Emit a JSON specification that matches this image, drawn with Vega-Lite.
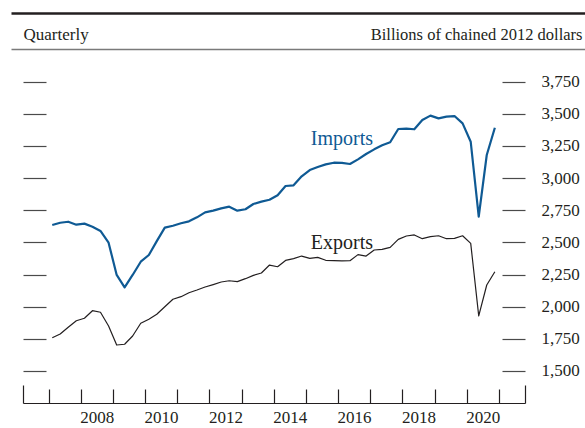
{
  "$schema": "https://vega.github.io/schema/vega-lite/v6.json",
  "width": 502,
  "height": 343,
  "autosize": "none",
  "padding": {"left": 23, "top": 60, "right": 60, "bottom": 25},
  "config": {
    "font": "Liberation Serif",
    "view": {"stroke": null},
    "axis": {"grid": false, "labelFont": "Liberation Serif", "titleFont": "Liberation Serif"}
  },
  "datasets": {
    "trade": [
      {"date": "2007-01-01", "series": "Imports", "value": 2635},
      {"date": "2007-04-01", "series": "Imports", "value": 2653},
      {"date": "2007-07-01", "series": "Imports", "value": 2661},
      {"date": "2007-10-01", "series": "Imports", "value": 2638},
      {"date": "2008-01-01", "series": "Imports", "value": 2646},
      {"date": "2008-04-01", "series": "Imports", "value": 2622},
      {"date": "2008-07-01", "series": "Imports", "value": 2589},
      {"date": "2008-10-01", "series": "Imports", "value": 2498},
      {"date": "2009-01-01", "series": "Imports", "value": 2247},
      {"date": "2009-04-01", "series": "Imports", "value": 2151},
      {"date": "2009-07-01", "series": "Imports", "value": 2247},
      {"date": "2009-10-01", "series": "Imports", "value": 2350},
      {"date": "2010-01-01", "series": "Imports", "value": 2402},
      {"date": "2010-04-01", "series": "Imports", "value": 2510},
      {"date": "2010-07-01", "series": "Imports", "value": 2615},
      {"date": "2010-10-01", "series": "Imports", "value": 2630},
      {"date": "2011-01-01", "series": "Imports", "value": 2649},
      {"date": "2011-04-01", "series": "Imports", "value": 2664},
      {"date": "2011-07-01", "series": "Imports", "value": 2695},
      {"date": "2011-10-01", "series": "Imports", "value": 2734},
      {"date": "2012-01-01", "series": "Imports", "value": 2747},
      {"date": "2012-04-01", "series": "Imports", "value": 2765},
      {"date": "2012-07-01", "series": "Imports", "value": 2778},
      {"date": "2012-10-01", "series": "Imports", "value": 2747},
      {"date": "2013-01-01", "series": "Imports", "value": 2758},
      {"date": "2013-04-01", "series": "Imports", "value": 2799},
      {"date": "2013-07-01", "series": "Imports", "value": 2817},
      {"date": "2013-10-01", "series": "Imports", "value": 2832},
      {"date": "2014-01-01", "series": "Imports", "value": 2867},
      {"date": "2014-04-01", "series": "Imports", "value": 2939},
      {"date": "2014-07-01", "series": "Imports", "value": 2944},
      {"date": "2014-10-01", "series": "Imports", "value": 3014},
      {"date": "2015-01-01", "series": "Imports", "value": 3063},
      {"date": "2015-04-01", "series": "Imports", "value": 3087},
      {"date": "2015-07-01", "series": "Imports", "value": 3107},
      {"date": "2015-10-01", "series": "Imports", "value": 3120},
      {"date": "2016-01-01", "series": "Imports", "value": 3118},
      {"date": "2016-04-01", "series": "Imports", "value": 3110},
      {"date": "2016-07-01", "series": "Imports", "value": 3146},
      {"date": "2016-10-01", "series": "Imports", "value": 3188},
      {"date": "2017-01-01", "series": "Imports", "value": 3224},
      {"date": "2017-04-01", "series": "Imports", "value": 3255},
      {"date": "2017-07-01", "series": "Imports", "value": 3279},
      {"date": "2017-10-01", "series": "Imports", "value": 3382},
      {"date": "2018-01-01", "series": "Imports", "value": 3385},
      {"date": "2018-04-01", "series": "Imports", "value": 3380},
      {"date": "2018-07-01", "series": "Imports", "value": 3452},
      {"date": "2018-10-01", "series": "Imports", "value": 3486},
      {"date": "2019-01-01", "series": "Imports", "value": 3465},
      {"date": "2019-04-01", "series": "Imports", "value": 3478},
      {"date": "2019-07-01", "series": "Imports", "value": 3483},
      {"date": "2019-10-01", "series": "Imports", "value": 3426},
      {"date": "2020-01-01", "series": "Imports", "value": 3283},
      {"date": "2020-04-01", "series": "Imports", "value": 2700},
      {"date": "2020-07-01", "series": "Imports", "value": 3180},
      {"date": "2020-10-01", "series": "Imports", "value": 3392},
      {"date": "2007-01-01", "series": "Exports", "value": 1759},
      {"date": "2007-04-01", "series": "Exports", "value": 1788},
      {"date": "2007-07-01", "series": "Exports", "value": 1840},
      {"date": "2007-10-01", "series": "Exports", "value": 1891},
      {"date": "2008-01-01", "series": "Exports", "value": 1910},
      {"date": "2008-04-01", "series": "Exports", "value": 1969},
      {"date": "2008-07-01", "series": "Exports", "value": 1957},
      {"date": "2008-10-01", "series": "Exports", "value": 1850},
      {"date": "2009-01-01", "series": "Exports", "value": 1702},
      {"date": "2009-04-01", "series": "Exports", "value": 1708},
      {"date": "2009-07-01", "series": "Exports", "value": 1772},
      {"date": "2009-10-01", "series": "Exports", "value": 1871},
      {"date": "2010-01-01", "series": "Exports", "value": 1902},
      {"date": "2010-04-01", "series": "Exports", "value": 1941},
      {"date": "2010-07-01", "series": "Exports", "value": 2000},
      {"date": "2010-10-01", "series": "Exports", "value": 2058},
      {"date": "2011-01-01", "series": "Exports", "value": 2078},
      {"date": "2011-04-01", "series": "Exports", "value": 2109},
      {"date": "2011-07-01", "series": "Exports", "value": 2130},
      {"date": "2011-10-01", "series": "Exports", "value": 2153},
      {"date": "2012-01-01", "series": "Exports", "value": 2172},
      {"date": "2012-04-01", "series": "Exports", "value": 2192},
      {"date": "2012-07-01", "series": "Exports", "value": 2202},
      {"date": "2012-10-01", "series": "Exports", "value": 2195},
      {"date": "2013-01-01", "series": "Exports", "value": 2218},
      {"date": "2013-04-01", "series": "Exports", "value": 2244},
      {"date": "2013-07-01", "series": "Exports", "value": 2262},
      {"date": "2013-10-01", "series": "Exports", "value": 2324},
      {"date": "2014-01-01", "series": "Exports", "value": 2311},
      {"date": "2014-04-01", "series": "Exports", "value": 2360},
      {"date": "2014-07-01", "series": "Exports", "value": 2374},
      {"date": "2014-10-01", "series": "Exports", "value": 2394},
      {"date": "2015-01-01", "series": "Exports", "value": 2376},
      {"date": "2015-04-01", "series": "Exports", "value": 2384},
      {"date": "2015-07-01", "series": "Exports", "value": 2361},
      {"date": "2015-10-01", "series": "Exports", "value": 2358},
      {"date": "2016-01-01", "series": "Exports", "value": 2356},
      {"date": "2016-04-01", "series": "Exports", "value": 2358},
      {"date": "2016-07-01", "series": "Exports", "value": 2405},
      {"date": "2016-10-01", "series": "Exports", "value": 2394},
      {"date": "2017-01-01", "series": "Exports", "value": 2441},
      {"date": "2017-04-01", "series": "Exports", "value": 2446},
      {"date": "2017-07-01", "series": "Exports", "value": 2462},
      {"date": "2017-10-01", "series": "Exports", "value": 2524},
      {"date": "2018-01-01", "series": "Exports", "value": 2550},
      {"date": "2018-04-01", "series": "Exports", "value": 2558},
      {"date": "2018-07-01", "series": "Exports", "value": 2529},
      {"date": "2018-10-01", "series": "Exports", "value": 2545},
      {"date": "2019-01-01", "series": "Exports", "value": 2552},
      {"date": "2019-04-01", "series": "Exports", "value": 2529},
      {"date": "2019-07-01", "series": "Exports", "value": 2532},
      {"date": "2019-10-01", "series": "Exports", "value": 2552},
      {"date": "2020-01-01", "series": "Exports", "value": 2493},
      {"date": "2020-04-01", "series": "Exports", "value": 1928},
      {"date": "2020-07-01", "series": "Exports", "value": 2169},
      {"date": "2020-10-01", "series": "Exports", "value": 2272}
    ],
    "labels": [
      {"date": "2016-01-01", "series": "Imports", "value": 3258},
      {"date": "2016-01-01", "series": "Exports", "value": 2447}
    ],
    "axisyears": [{"year": 2006.205}, {"year": 2021.81}],
    "frame": [{"pos": 0}, {"pos": 1}],
    "yframe": [{"level": 1500}, {"level": 3750}]
  },
  "resolve": {
    "scale": {"x": "independent", "y": "independent"},
    "axis": {"x": "independent", "y": "independent"}
  },
  "layer": [
    {
      "data": {"name": "trade"},
      "mark": {"type": "line", "strokeJoin": "round"},
      "encoding": {
        "x": {
          "field": "date", "type": "temporal",
          "scale": {"type": "utc", "domain": [{"year": 2006, "month": 2, "date": 3, "utc": true}, {"year": 2021, "month": 9, "date": 8, "utc": true}]},
          "axis": null
        },
        "y": {
          "field": "value", "type": "quantitative",
          "scale": {"domain": [1251.1, 3918.8], "nice": false, "zero": false},
          "axis": {
            "orient": "right",
            "values": [1500, 1750, 2000, 2250, 2500, 2750, 3000, 3250, 3500, 3750],
            "format": ",.0f",
            "domain": false,
            "tickSize": -23,
            "tickColor": "#4a4a4a",
            "tickWidth": 1.2,
            "labelPadding": 39,
            "labelFontSize": 17,
            "labelColor": "#231f20",
            "labelAlign": "left",
            "labelBaseline": "middle",
            "title": "Billions of chained 2012 dollars",
            "titleAngle": 0,
            "titleAlign": "right",
            "titleBaseline": "alphabetic",
            "titleX": 57,
            "titleY": -21,
            "titleFontSize": 16.5,
            "titleFontWeight": "normal",
            "titleColor": "#231f20"
          }
        },
        "color": {"field": "series", "type": "nominal", "scale": {"domain": ["Imports", "Exports"], "range": ["#0f5a94", "#231f20"]}, "legend": null},
        "strokeWidth": {"field": "series", "type": "nominal", "scale": {"domain": ["Imports", "Exports"], "range": [2.2, 1.2]}, "legend": null}
      }
    },
    {
      "data": {"name": "labels"},
      "mark": {"type": "text", "fontSize": 20, "align": "center", "baseline": "alphabetic"},
      "encoding": {
        "x": {
          "field": "date", "type": "temporal",
          "scale": {"type": "utc", "domain": [{"year": 2006, "month": 2, "date": 3, "utc": true}, {"year": 2021, "month": 9, "date": 8, "utc": true}]},
          "axis": null
        },
        "y": {"field": "value", "type": "quantitative", "scale": {"domain": [1251.1, 3918.8], "nice": false, "zero": false}, "axis": null},
        "text": {"field": "series"},
        "color": {"field": "series", "type": "nominal", "scale": {"domain": ["Imports", "Exports"], "range": ["#0f5a94", "#231f20"]}, "legend": null}
      }
    },
    {
      "data": {"name": "axisyears"},
      "mark": {"type": "point", "opacity": 0},
      "encoding": {
        "x": {
          "field": "year", "type": "quantitative",
          "scale": {"domain": [2006.205, 2021.81], "nice": false, "zero": false},
          "axis": {
            "orient": "bottom",
            "values": [2007, 2008, 2009, 2010, 2011, 2012, 2013, 2014, 2015, 2016, 2017, 2018, 2019, 2020, 2021],
            "labelExpr": "datum.value % 2 == 0 && datum.value < 2021 ? format(datum.value, 'd') : ''",
            "domain": true,
            "domainColor": "#231f20",
            "domainWidth": 1.2,
            "tickSize": -14,
            "tickColor": "#231f20",
            "tickWidth": 1.2,
            "labelOffset": 16,
            "labelPadding": 20.5,
            "labelFontSize": 17,
            "labelColor": "#231f20",
            "labelBaseline": "top",
            "labelFlush": false,
            "labelOverlap": false,
            "title": null
          }
        }
      }
    },
    {
      "data": {"name": "axisyears"},
      "mark": {"type": "point", "opacity": 0},
      "encoding": {
        "x": {
          "field": "year", "type": "quantitative",
          "scale": {"domain": [2006.205, 2021.81], "nice": false, "zero": false},
          "axis": {
            "orient": "bottom",
            "values": [2006.205, 2021.81],
            "domain": false,
            "labels": false,
            "tickSize": -18,
            "tickColor": "#231f20",
            "tickWidth": 1.2,
            "title": null
          }
        }
      }
    },
    {
      "data": {"name": "yframe"},
      "mark": {"type": "point", "opacity": 0},
      "encoding": {
        "y": {
          "field": "level", "type": "quantitative",
          "scale": {"domain": [1251.1, 3918.8], "nice": false, "zero": false},
          "axis": {
            "orient": "left",
            "values": [1500, 1750, 2000, 2250, 2500, 2750, 3000, 3250, 3500, 3750],
            "domain": false,
            "labels": false,
            "tickSize": -23,
            "tickColor": "#4a4a4a",
            "tickWidth": 1.2,
            "title": "Quarterly",
            "titleAngle": 0,
            "titleAlign": "left",
            "titleBaseline": "alphabetic",
            "titleX": 0,
            "titleY": -21,
            "titleFontSize": 17,
            "titleFontWeight": "normal",
            "titleColor": "#231f20"
          }
        }
      }
    },
    {
      "data": {"name": "frame"},
      "mark": {"type": "point", "opacity": 0},
      "encoding": {
        "x": {
          "field": "pos", "type": "quantitative",
          "scale": {"domain": [0, 1], "range": [-12, 562], "nice": false, "zero": false},
          "axis": {"orient": "top", "offset": 47, "domain": true, "domainColor": "#231f20", "domainWidth": 2.4, "ticks": false, "labels": false, "title": null}
        }
      }
    },
    {
      "data": {"name": "frame"},
      "mark": {"type": "point", "opacity": 0},
      "encoding": {
        "x": {
          "field": "pos", "type": "quantitative",
          "scale": {"domain": [0, 1], "range": [-12, 562], "nice": false, "zero": false},
          "axis": {"orient": "top", "offset": 11, "domain": true, "domainColor": "#7a7a7a", "domainWidth": 1.3, "ticks": false, "labels": false, "title": null}
        }
      }
    }
  ]
}
